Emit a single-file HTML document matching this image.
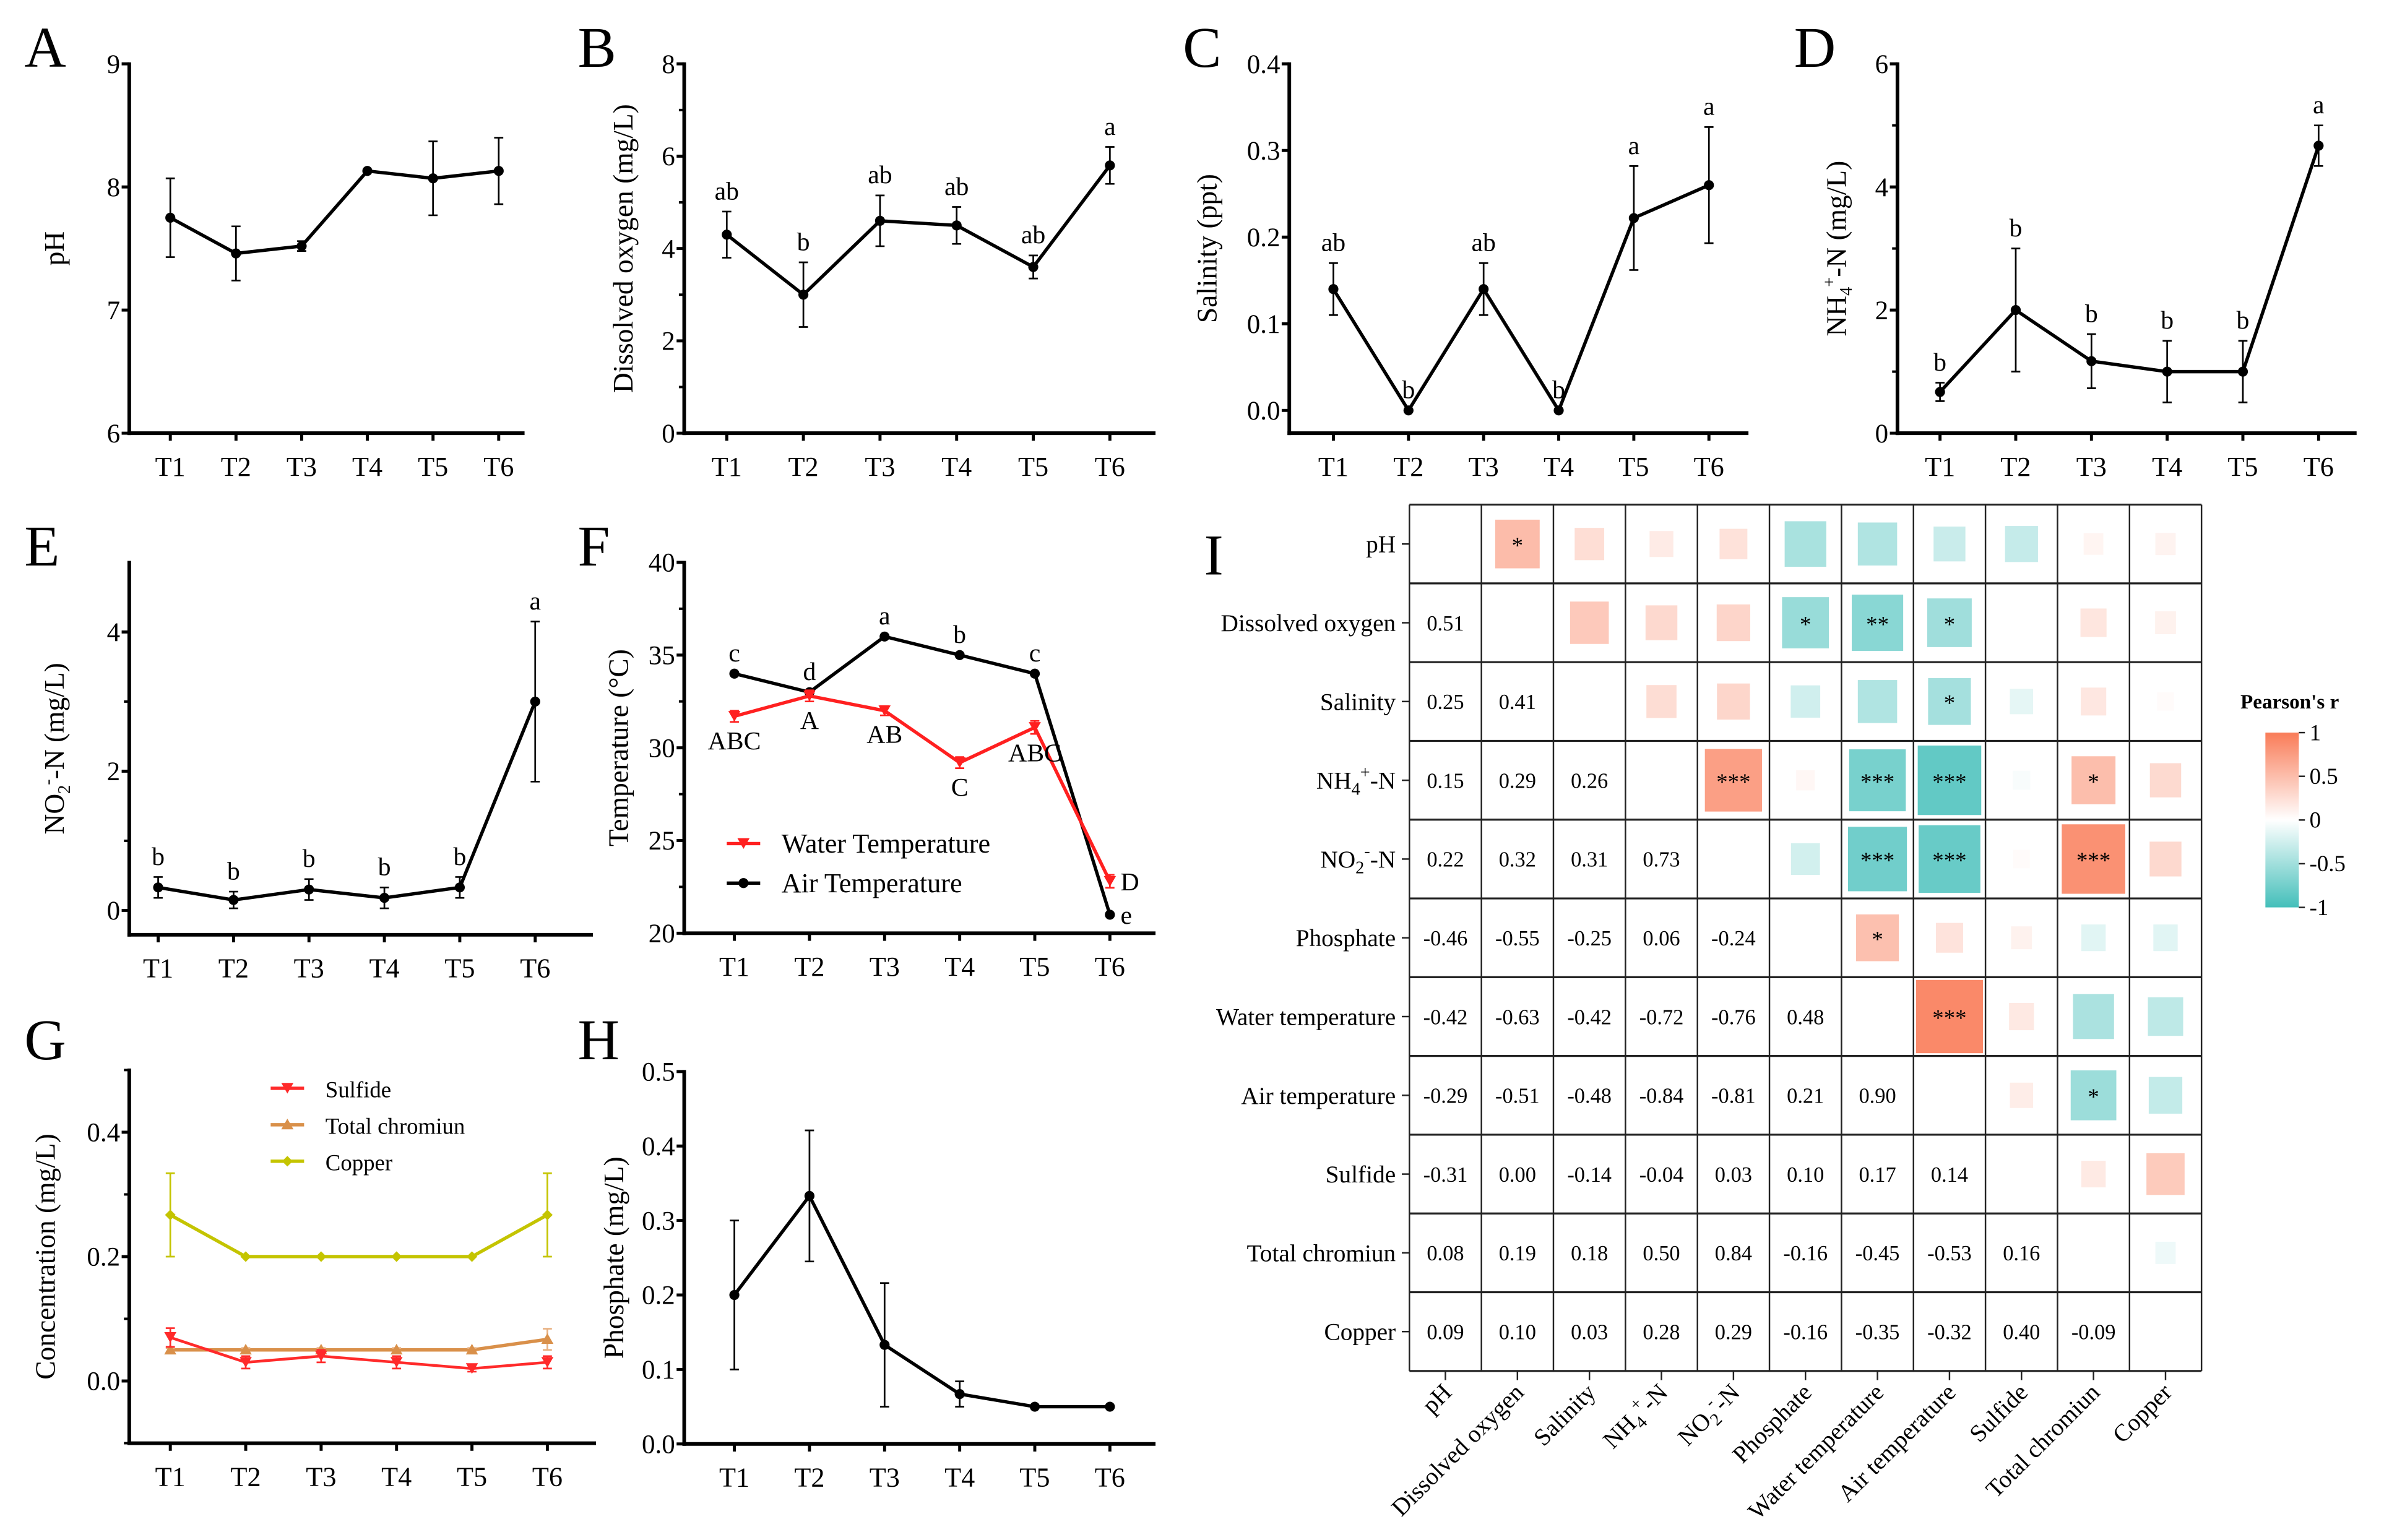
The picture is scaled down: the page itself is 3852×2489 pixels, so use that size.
<!DOCTYPE html>
<html><head><meta charset="utf-8">
<style>
html,body{margin:0;padding:0;background:#fff;}
svg{display:block;font-family:"Liberation Serif",serif;}
</style></head>
<body>
<svg id="fig" xmlns="http://www.w3.org/2000/svg" width="3852" height="2489" viewBox="0 0 1568 1013.2">
<defs>
<linearGradient id="cbar" x1="0" y1="0" x2="0" y2="1">
<stop offset="0" stop-color="#F97C58"/><stop offset="0.5" stop-color="#ffffff"/><stop offset="1" stop-color="#44BFBA"/>
</linearGradient>
</defs>
<g id="root"></g>
</svg>
<script>
// ---------- data ----------
const times = ["T1","T2","T3","T4","T5","T6"];
const phMean = [7.75,7.46,7.52,8.13,8.07,8.13];
const phErr = [0.32,0.22,0.04,0.01,0.30,0.27];
const doMean = [4.3,3.0,4.6,4.5,3.6,5.8];
const doErr = [0.5,0.7,0.55,0.4,0.25,0.4];
const doLetters = ["ab","b","ab","ab","ab","a"];
const salMean = [0.14,0.0,0.14,0.0,0.222,0.26];
const salErr = [0.03,0,0.03,0,0.06,0.067];
const salLetters = ["ab","b","ab","b","a","a"];
const nh4Mean = [0.67,2.0,1.17,1.0,1.0,4.67];
const nh4Err = [0.15,1.0,0.44,0.5,0.5,0.33];
const nh4Letters = ["b","b","b","b","b","a"];
const no2Mean = [0.33,0.15,0.3,0.18,0.33,3.0];
const no2Err = [0.15,0.12,0.15,0.15,0.15,1.15];
const no2Letters = ["b","b","b","b","b","a"];
const waterTemp = [31.7,32.8,32.0,29.2,31.1,22.8];
const waterErr = [0.3,0.3,0.25,0.3,0.35,0.35];
const waterLetters = ["ABC","A","AB","C","ABC","D"];
const airTemp = [34,33,36,35,34,21];
const airLetters = ["c","d","a","b","c","e"];
const sulfide = [0.07,0.03,0.04,0.03,0.02,0.03];
const sulfideErr = [0.015,0.01,0.01,0.01,0.005,0.01];
const chromium = [0.05,0.05,0.05,0.05,0.05,0.067];
const chromiumErr = [0.003,0.003,0.003,0.003,0.003,0.017];
const copper = [0.267,0.2,0.2,0.2,0.2,0.267];
const copperErr = [0.067,0,0,0,0,0.067];
const phosMean = [0.2,0.333,0.133,0.067,0.05,0.05];
const phosErr = [0.1,0.088,0.083,0.017,0,0];
// correlation heatmap
const vars = ["pH","Dissolved oxygen","Salinity","NH4+-N","NO2--N","Phosphate","Water temperature","Air temperature","Sulfide","Total chromiun","Copper"];
const corrLower = [
 [],
 [0.51],
 [0.25,0.41],
 [0.15,0.29,0.26],
 [0.22,0.32,0.31,0.73],
 [-0.46,-0.55,-0.25,0.06,-0.24],
 [-0.42,-0.63,-0.42,-0.72,-0.76,0.48],
 [-0.29,-0.51,-0.48,-0.84,-0.81,0.21,0.90],
 [-0.31,0.00,-0.14,-0.04,0.03,0.10,0.17,0.14],
 [0.08,0.19,0.18,0.50,0.84,-0.16,-0.45,-0.53,0.16],
 [0.09,0.10,0.03,0.28,0.29,-0.16,-0.35,-0.32,0.40,-0.09]
];
const sigStars = [
 [],
 ["*"],
 ["","",],
 ["","",""],
 ["","","","***"],
 ["","*","","",""],
 ["","**","","***","***","*"],
 ["","*","*","***","***","","***"],
 ["","","","","","","",""],
 ["","","","*","***","","","*",""],
 ["","","","","","","","","",""]
];
const cbTicks = [1,0.5,0,-0.5,-1];

// ---------- helpers ----------
const NS="http://www.w3.org/2000/svg";
const root=document.getElementById('root');
function mk(tag,attrs,parent,text){const e=document.createElementNS(NS,tag);for(const k in attrs)e.setAttribute(k,attrs[k]);if(text!==undefined)e.textContent=text;(parent||root).appendChild(e);return e;}

function makePanel(c){
  const g=mk('g',{});
  
  
  const sy=v=>c.yBot-(v-c.ymin)/(c.ymax-c.ymin)*(c.yBot-c.yTop);
  const sx=i=>c.t1+i*(c.t6-c.t1)/5;
  const ya=mk('line',{x1:c.ax,y1:c.yTop-1,x2:c.ax,y2:c.yBot+1.2,stroke:'#000','stroke-width':2.4},g);
  
  const xa=mk('line',{x1:c.ax-1.2,y1:c.yBot,x2:c.axEnd,y2:c.yBot,stroke:'#000','stroke-width':2.4},g);
  
  c.ticks.forEach(t=>{
    const y=sy(t);
    mk('line',{x1:c.ax-5,y1:y,x2:c.ax,y2:y,stroke:'#000','stroke-width':2},g);
    const tl=mk('text',{x:c.ax-6,y:y+6,'text-anchor':'end','font-size':17.5},g,c.fmt?c.fmt(t):String(t));
    
  });
  (c.minor||[]).forEach(t=>{const y=sy(t);mk('line',{x1:c.ax-3.5,y1:y,x2:c.ax,y2:y,stroke:'#000','stroke-width':1.6},g);});
  times.forEach((t,i)=>{
    const x=sx(i);
    mk('line',{x1:x,y1:c.yBot,x2:x,y2:c.yBot+5,stroke:'#000','stroke-width':2},g);
    const tl=mk('text',{x:x,y:c.yBot+28,'text-anchor':'middle','font-size':18},g,t);
    
  });
  const tt=mk('text',{x:0,y:0,'text-anchor':'middle','font-size':18.5,transform:`translate(${c.titleX},${(c.yTop+c.yBot)/2}) rotate(-90)`},g);
  
  c.title(tt);
  const pl=mk('text',{x:c.letterX,y:c.letterY,'font-size':38},g,c.letter);
  
  c.series.forEach(s=>{
    const sg=mk('g',{},g);
    
    const pts=s.mean.map((v,i)=>sx(i)+','+sy(v)).join(' ');
    mk('polyline',{points:pts,fill:'none',stroke:s.color,'stroke-width':s.lw||2.2},sg);
    s.mean.forEach((v,i)=>{
      const x=sx(i),e=s.err?s.err[i]:0;
      if(e>0){
        const y1=sy(v+e),y2=sy(v-e);
        const eb=mk('path',{d:`M${x},${y1}V${y2}M${x-3},${y1}H${x+3}M${x-3},${y2}H${x+3}`,stroke:s.ecolor||s.color,'stroke-width':1.1,fill:'none'},sg);
        
      }
      const y=sy(v);let m;
      if(s.marker==='tri-down') m=mk('path',{d:`M${x-4},${y-3.5}H${x+4}L${x},${y+3.5}Z`,fill:s.color},sg);
      else if(s.marker==='tri-up') m=mk('path',{d:`M${x-4},${y+3}H${x+4}L${x},${y-4}Z`,fill:s.color},sg);
      else if(s.marker==='diamond') m=mk('path',{d:`M${x},${y-3.5}L${x+3.5},${y}L${x},${y+3.5}L${x-3.5},${y}Z`,fill:s.color},sg);
      else m=mk('circle',{cx:x,cy:y,r:3.3,fill:s.color},sg);
      
      if(s.letters){
        let lx=x,ly,anchor='middle';
        if(s.letterPos==='below') ly=sy(v-e)+18;
        else ly=sy(v+e)-8;
        if(i===5&&s.lastRight){lx=x+7;ly=y+6;anchor='start';}
        const lt=mk('text',{x:lx,y:ly,'text-anchor':anchor,'font-size':17},sg,s.letters[i]);
        
      }
    });
  });
  return {g,sx,sy};
}
function sub(tt,base,supT,subT,rest){
  tt.appendChild(document.createTextNode(base));
  if(subT){mk('tspan',{'font-size':11.5,dy:4},tt,subT);}
  if(supT){mk('tspan',{'font-size':11.5,dy:subT?-11:-7},tt,supT);}
  mk('tspan',{dy:subT&&supT?7:(subT?-4:7)},tt,rest);
}

makePanel({name:'panel-a-ph',letter:'A',letterX:16,letterY:44,ax:85,axEnd:345,yTop:42,yBot:285,ymin:6,ymax:9,t1:112,t6:328,ticks:[6,7,8,9],titleX:42,
 title:t=>t.textContent='pH',
 series:[{name:'ph-series',mean:phMean,err:phErr,color:'#000'}]});
makePanel({name:'panel-b-dissolved-oxygen',letter:'B',letterX:380,letterY:44,ax:450,axEnd:760,yTop:42,yBot:285,ymin:0,ymax:8,t1:478,t6:730,ticks:[0,2,4,6,8],minor:[1,3,5,7],titleX:416,
 title:t=>t.textContent='Dissolved oxygen (mg/L)',
 series:[{name:'dissolved-oxygen-series',mean:doMean,err:doErr,color:'#000',letters:doLetters}]});
makePanel({name:'panel-c-salinity',letter:'C',letterX:778,letterY:44,ax:848,axEnd:1150,yTop:42,yBot:285,ymin:-0.0263,ymax:0.4,t1:877,t6:1124,ticks:[0,0.1,0.2,0.3,0.4],fmt:v=>v.toFixed(1),titleX:800,
 title:t=>t.textContent='Salinity (ppt)',
 series:[{name:'salinity-series',mean:salMean,err:salErr,color:'#000',letters:salLetters}]});
makePanel({name:'panel-d-ammonium',letter:'D',letterX:1180,letterY:44,ax:1248,axEnd:1550,yTop:42,yBot:285,ymin:0,ymax:6,t1:1276,t6:1525,ticks:[0,2,4,6],minor:[1,3,5],titleX:1214,
 title:t=>sub(t,'NH','+','4','-N (mg/L)'),
 series:[{name:'ammonium-series',mean:nh4Mean,err:nh4Err,color:'#000',letters:nh4Letters}]});
makePanel({name:'panel-e-nitrite',letter:'E',letterX:16,letterY:372,ax:85,axEnd:390,yTop:370,yBot:615,ymin:-0.35,ymax:5.0,t1:104,t6:352,ticks:[0,2,4],minor:[1,3],titleX:42,
 title:t=>sub(t,'NO','-','2','-N (mg/L)'),
 series:[{name:'nitrite-series',mean:no2Mean,err:no2Err,color:'#000',letters:no2Letters}]});
makePanel({name:'panel-f-temperature',letter:'F',letterX:380,letterY:372,ax:450,axEnd:760,yTop:370,yBot:614,ymin:20,ymax:40,t1:483,t6:730,ticks:[20,25,30,35,40],minor:[22.5,27.5,32.5,37.5],titleX:413,
 title:t=>t.textContent='Temperature (°C)',
 series:[
  {name:'air-temperature-series',mean:airTemp,color:'#000',letters:airLetters,lastRight:true},
  {name:'water-temperature-series',mean:waterTemp,err:waterErr,color:'#FF2020',marker:'tri-down',letters:waterLetters,letterPos:'below',lastRight:true}
 ]});
makePanel({name:'panel-g-concentration',letter:'G',letterX:16,letterY:697,ax:85,axEnd:392,yTop:704,yBot:949.5,ymin:-0.1,ymax:0.5,t1:112,t6:360,ticks:[0,0.2,0.4],minor:[-0.1,0.1,0.3,0.5],fmt:v=>v.toFixed(1),titleX:36,
 title:t=>t.textContent='Concentration (mg/L)',
 series:[
  {name:'copper-series',mean:copper,err:copperErr,color:'#C4C400',marker:'diamond'},
  {name:'total-chromium-series',mean:chromium,err:chromiumErr,color:'#D9904A',marker:'tri-up',ecolor:'#E8B080'},
  {name:'sulfide-series',mean:sulfide,err:sulfideErr,color:'#FF2A2A',marker:'tri-down',lw:1.8}
 ]});
makePanel({name:'panel-h-phosphate',letter:'H',letterX:380,letterY:697,ax:450,axEnd:760,yTop:705,yBot:950,ymin:0,ymax:0.5,t1:483,t6:730,ticks:[0,0.1,0.2,0.3,0.4,0.5],fmt:v=>v.toFixed(1),titleX:410,
 title:t=>t.textContent='Phosphate (mg/L)',
 series:[{name:'phosphate-series',mean:phosMean,err:phosErr,color:'#000'}]});

function legend(items,x,y,dy,name){
  const g=mk('g',{});
  items.forEach((it,i)=>{
    const yy=y+i*dy;
    const e=mk('g',{},g);
    mk('line',{x1:x,y1:yy,x2:x+22,y2:yy,stroke:it.c,'stroke-width':2.2},e);
    const cx=x+11;
    if(it.m==='tri-down')mk('path',{d:`M${cx-4},${yy-3.5}H${cx+4}L${cx},${yy+3.5}Z`,fill:it.c},e);
    else if(it.m==='tri-up')mk('path',{d:`M${cx-4},${yy+3}H${cx+4}L${cx},${yy-4}Z`,fill:it.c},e);
    else if(it.m==='diamond')mk('path',{d:`M${cx},${yy-3.5}L${cx+3.5},${yy}L${cx},${yy+3.5}L${cx-3.5},${yy}Z`,fill:it.c},e);
    else mk('circle',{cx:cx,cy:yy,r:3.3,fill:it.c},e);
    mk('text',{x:x+36,y:yy+6,'font-size':it.fs||16},e,it.t);
  });
}
legend([{t:'Water Temperature',c:'#FF2020',m:'tri-down',fs:18},{t:'Air Temperature',c:'#000',m:'circle',fs:18}],478,555,26,'legend-temperature');
legend([{t:'Sulfide',c:'#FF2A2A',m:'tri-down',fs:15},{t:'Total chromiun',c:'#D9904A',m:'tri-up',fs:15},{t:'Copper',c:'#C4C400',m:'diamond',fs:15}],178,716,24,'legend-concentration');

// ---------- heatmap ----------
const H={x0:927,x1:1448,y0:332,y1:902};
const n=vars.length, cw=(H.x1-H.x0)/n, ch=(H.y1-H.y0)/n;
const r=(i,j)=>i>j?corrLower[i][j]:corrLower[j][i];
const star=(i,j)=>i>j?(sigStars[i][j]||''):(sigStars[j][i]||'');
function mix(a,b,t){return 'rgb('+a.map((v,k)=>Math.round(v+(b[k]-v)*t)).join(',')+')';}
const POS=[249,124,88],NEG=[68,191,186],WH=[255,255,255];
const hg=mk('g',{});
const pli=mk('text',{x:792,y:378,'font-size':38},hg,'I');

for(let i=0;i<n;i++)for(let j=0;j<n;j++){
  const cx=H.x0+j*cw, cy=H.y0+i*ch;
  if(i>j){
    const t=mk('text',{x:cx+cw/2,y:cy+ch/2+5,'text-anchor':'middle','font-size':14},hg,r(i,j).toFixed(2));
    
  }else if(j>i){
    const v=r(i,j),a=Math.abs(v);
    if(a>0.001){
      const f=0.21+0.8*a, w=cw*f, h=ch*f;
      const rc=mk('rect',{x:cx+(cw-w)/2,y:cy+(ch-h)/2,width:w,height:h,fill:mix(WH,v>0?POS:NEG,a)},hg);
      
    }
    const s=star(i,j);
    if(s){const st=mk('text',{x:cx+cw/2,y:cy+ch/2+6,'text-anchor':'middle','font-size':15},hg,s);
      }
  }
}
for(let k=0;k<=n;k++){
  mk('line',{x1:H.x0+k*cw,y1:H.y0,x2:H.x0+k*cw,y2:H.y1,stroke:'#222','stroke-width':1},hg);
  mk('line',{x1:H.x0,y1:H.y0+k*ch,x2:H.x1,y2:H.y0+k*ch,stroke:'#222','stroke-width':1.3},hg);
}
function richLabel(t,name){
  if(name==='NH4+-N'){sub(t,'NH','+','4','-N');}
  else if(name==='NO2--N'){sub(t,'NO','-','2','-N');}
  else t.textContent=name;
}
vars.forEach((v,i)=>{
  const y=H.y0+i*ch+ch/2;
  mk('line',{x1:H.x0-5,y1:y,x2:H.x0,y2:y,stroke:'#222','stroke-width':1},hg);
  const t=mk('text',{x:H.x0-9,y:y+5.5,'text-anchor':'end','font-size':16},hg);
  
  richLabel(t,v);
  const x=H.x0+i*cw+cw/2;
  mk('line',{x1:x,y1:H.y1,x2:x,y2:H.y1+6,stroke:'#222','stroke-width':1},hg);
  const c=mk('text',{x:0,y:0,'text-anchor':'end','font-size':16,transform:`translate(${x+5},${H.y1+15}) rotate(-45)`},hg);
  
  richLabel(c,v);
});
const CB={x:1490,w:22,y0:482,y1:597};
const cbg=mk('g',{},hg);
mk('rect',{x:CB.x,y:CB.y0,width:CB.w,height:CB.y1-CB.y0,fill:'url(#cbar)'},cbg);
const cbt=mk('text',{x:1506,y:466,'text-anchor':'middle','font-size':13.5,'font-weight':'bold'},cbg,"Pearson's r");

cbTicks.forEach(v=>{
  const y=CB.y0+(1-v)/2*(CB.y1-CB.y0);
  mk('line',{x1:CB.x+CB.w,y1:y,x2:CB.x+CB.w+4,y2:y,stroke:'#222','stroke-width':1},cbg);
  const tl=mk('text',{x:CB.x+CB.w+7,y:y+5,'font-size':15},cbg,String(v));
  
});
</script>
</body></html>
